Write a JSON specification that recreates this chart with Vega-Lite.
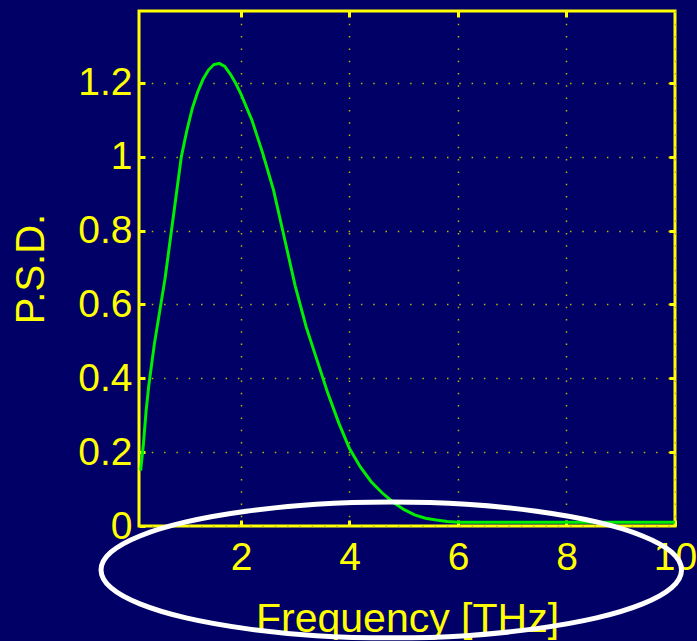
{
  "$schema": "https://vega.github.io/schema/vega-lite/v6.json",
  "width": 536,
  "height": 515,
  "autosize": {"type": "none"},
  "padding": {"left": 139, "top": 11, "right": 22, "bottom": 115},
  "background": "#000066",
  "config": {
    "view": {"stroke": "#ffff00", "strokeWidth": 3, "fill": "#000066"},
    "axis": {
      "domain": false,
      "labelFont": "Liberation Sans",
      "labelFontSize": 39,
      "labelColor": "#ffff00",
      "labelFlush": false,
      "labelOverlap": false,
      "titleFont": "Liberation Sans",
      "titleFontSize": 39,
      "titleColor": "#ffff00",
      "titleFontWeight": "normal",
      "tickColor": "#ffff00",
      "tickSize": -6,
      "tickWidth": 3,
      "gridColor": "#b8b800",
      "gridWidth": 1.5,
      "gridDash": [1.5, 10.8],
      "gridOpacity": 1
    }
  },
  "datasets": {
    "psd": [
      {"f": 0.15, "psd": 0.15},
      {"f": 0.2, "psd": 0.22},
      {"f": 0.25, "psd": 0.31},
      {"f": 0.3, "psd": 0.38},
      {"f": 0.4, "psd": 0.49},
      {"f": 0.5, "psd": 0.58},
      {"f": 0.6, "psd": 0.67},
      {"f": 0.7, "psd": 0.78},
      {"f": 0.8, "psd": 0.89},
      {"f": 0.9, "psd": 1.0},
      {"f": 1.0, "psd": 1.07},
      {"f": 1.1, "psd": 1.13},
      {"f": 1.2, "psd": 1.175},
      {"f": 1.3, "psd": 1.21},
      {"f": 1.4, "psd": 1.235},
      {"f": 1.5, "psd": 1.25},
      {"f": 1.6, "psd": 1.253},
      {"f": 1.7, "psd": 1.245},
      {"f": 1.8, "psd": 1.225},
      {"f": 1.9, "psd": 1.2},
      {"f": 2.0, "psd": 1.17},
      {"f": 2.2, "psd": 1.1},
      {"f": 2.4, "psd": 1.01},
      {"f": 2.6, "psd": 0.91},
      {"f": 2.8, "psd": 0.78},
      {"f": 3.0, "psd": 0.65},
      {"f": 3.2, "psd": 0.54},
      {"f": 3.4, "psd": 0.45},
      {"f": 3.6, "psd": 0.36},
      {"f": 3.8, "psd": 0.28},
      {"f": 4.0, "psd": 0.21},
      {"f": 4.2, "psd": 0.16},
      {"f": 4.4, "psd": 0.12},
      {"f": 4.6, "psd": 0.09},
      {"f": 4.8, "psd": 0.065},
      {"f": 5.0, "psd": 0.045},
      {"f": 5.2, "psd": 0.03},
      {"f": 5.4, "psd": 0.021},
      {"f": 5.6, "psd": 0.016},
      {"f": 5.8, "psd": 0.012},
      {"f": 6.0, "psd": 0.01},
      {"f": 7.0, "psd": 0.01},
      {"f": 8.0, "psd": 0.01},
      {"f": 9.0, "psd": 0.01},
      {"f": 10.0, "psd": 0.01}
    ],
    "ellipse": [
      {"i": 0, "ex": 10.12, "ey": -0.119},
      {"i": 1, "ex": 9.938, "ey": -0.071},
      {"i": 2, "ex": 9.403, "ey": -0.027},
      {"i": 3, "ex": 8.553, "ey": 0.011},
      {"i": 4, "ex": 7.445, "ey": 0.04},
      {"i": 5, "ex": 6.155, "ey": 0.059},
      {"i": 6, "ex": 4.77, "ey": 0.065},
      {"i": 7, "ex": 3.385, "ey": 0.059},
      {"i": 8, "ex": 2.095, "ey": 0.04},
      {"i": 9, "ex": 0.987, "ey": 0.011},
      {"i": 10, "ex": 0.137, "ey": -0.027},
      {"i": 11, "ex": -0.398, "ey": -0.071},
      {"i": 12, "ex": -0.58, "ey": -0.119},
      {"i": 13, "ex": -0.398, "ey": -0.167},
      {"i": 14, "ex": 0.137, "ey": -0.211},
      {"i": 15, "ex": 0.987, "ey": -0.249},
      {"i": 16, "ex": 2.095, "ey": -0.278},
      {"i": 17, "ex": 3.385, "ey": -0.297},
      {"i": 18, "ex": 4.77, "ey": -0.303},
      {"i": 19, "ex": 6.155, "ey": -0.297},
      {"i": 20, "ex": 7.445, "ey": -0.278},
      {"i": 21, "ex": 8.553, "ey": -0.249},
      {"i": 22, "ex": 9.403, "ey": -0.211},
      {"i": 23, "ex": 9.938, "ey": -0.167}
    ]
  },
  "layer": [
    {
      "data": {"name": "psd"},
      "mark": {"type": "line", "color": "#00ee00", "strokeWidth": 3, "clip": true},
      "encoding": {
        "x": {
          "field": "f",
          "type": "quantitative",
          "scale": {"domain": [0.12, 10], "nice": false, "zero": false},
          "axis": {
            "orient": "bottom",
            "values": [2, 4, 6, 8, 10],
            "format": "d",
            "title": "Frequency [THz]",
            "titleFontSize": 41,
            "grid": true,
            "labelPadding": 18,
            "titlePadding": 22
          }
        },
        "y": {
          "field": "psd",
          "type": "quantitative",
          "scale": {"domain": [0, 1.395], "nice": false, "zero": false},
          "axis": {
            "orient": "left",
            "values": [0, 0.2, 0.4, 0.6, 0.8, 1, 1.2],
            "format": ".1~f",
            "title": "P.S.D.",
            "titleFontSize": 40,
            "grid": true,
            "labelPadding": 13,
            "titlePadding": 26
          }
        }
      }
    },
    {
      "data": {"name": "ellipse"},
      "mark": {"type": "line", "color": "#ffffff", "strokeWidth": 5, "clip": false, "interpolate": "cardinal-closed"},
      "encoding": {
        "x": {
          "field": "ex",
          "type": "quantitative",
          "scale": {"domain": [0.12, 10], "nice": false, "zero": false},
          "axis": {"orient": "top", "values": [2, 4, 6, 8], "labels": false, "grid": false, "title": null}
        },
        "y": {
          "field": "ey",
          "type": "quantitative",
          "scale": {"domain": [0, 1.395], "nice": false, "zero": false},
          "axis": {"orient": "right", "values": [0.2, 0.4, 0.6, 0.8, 1, 1.2], "labels": false, "grid": false, "title": null}
        },
        "order": {"field": "i", "type": "quantitative"}
      }
    }
  ],
  "resolve": {"axis": {"x": "independent", "y": "independent"}}
}
